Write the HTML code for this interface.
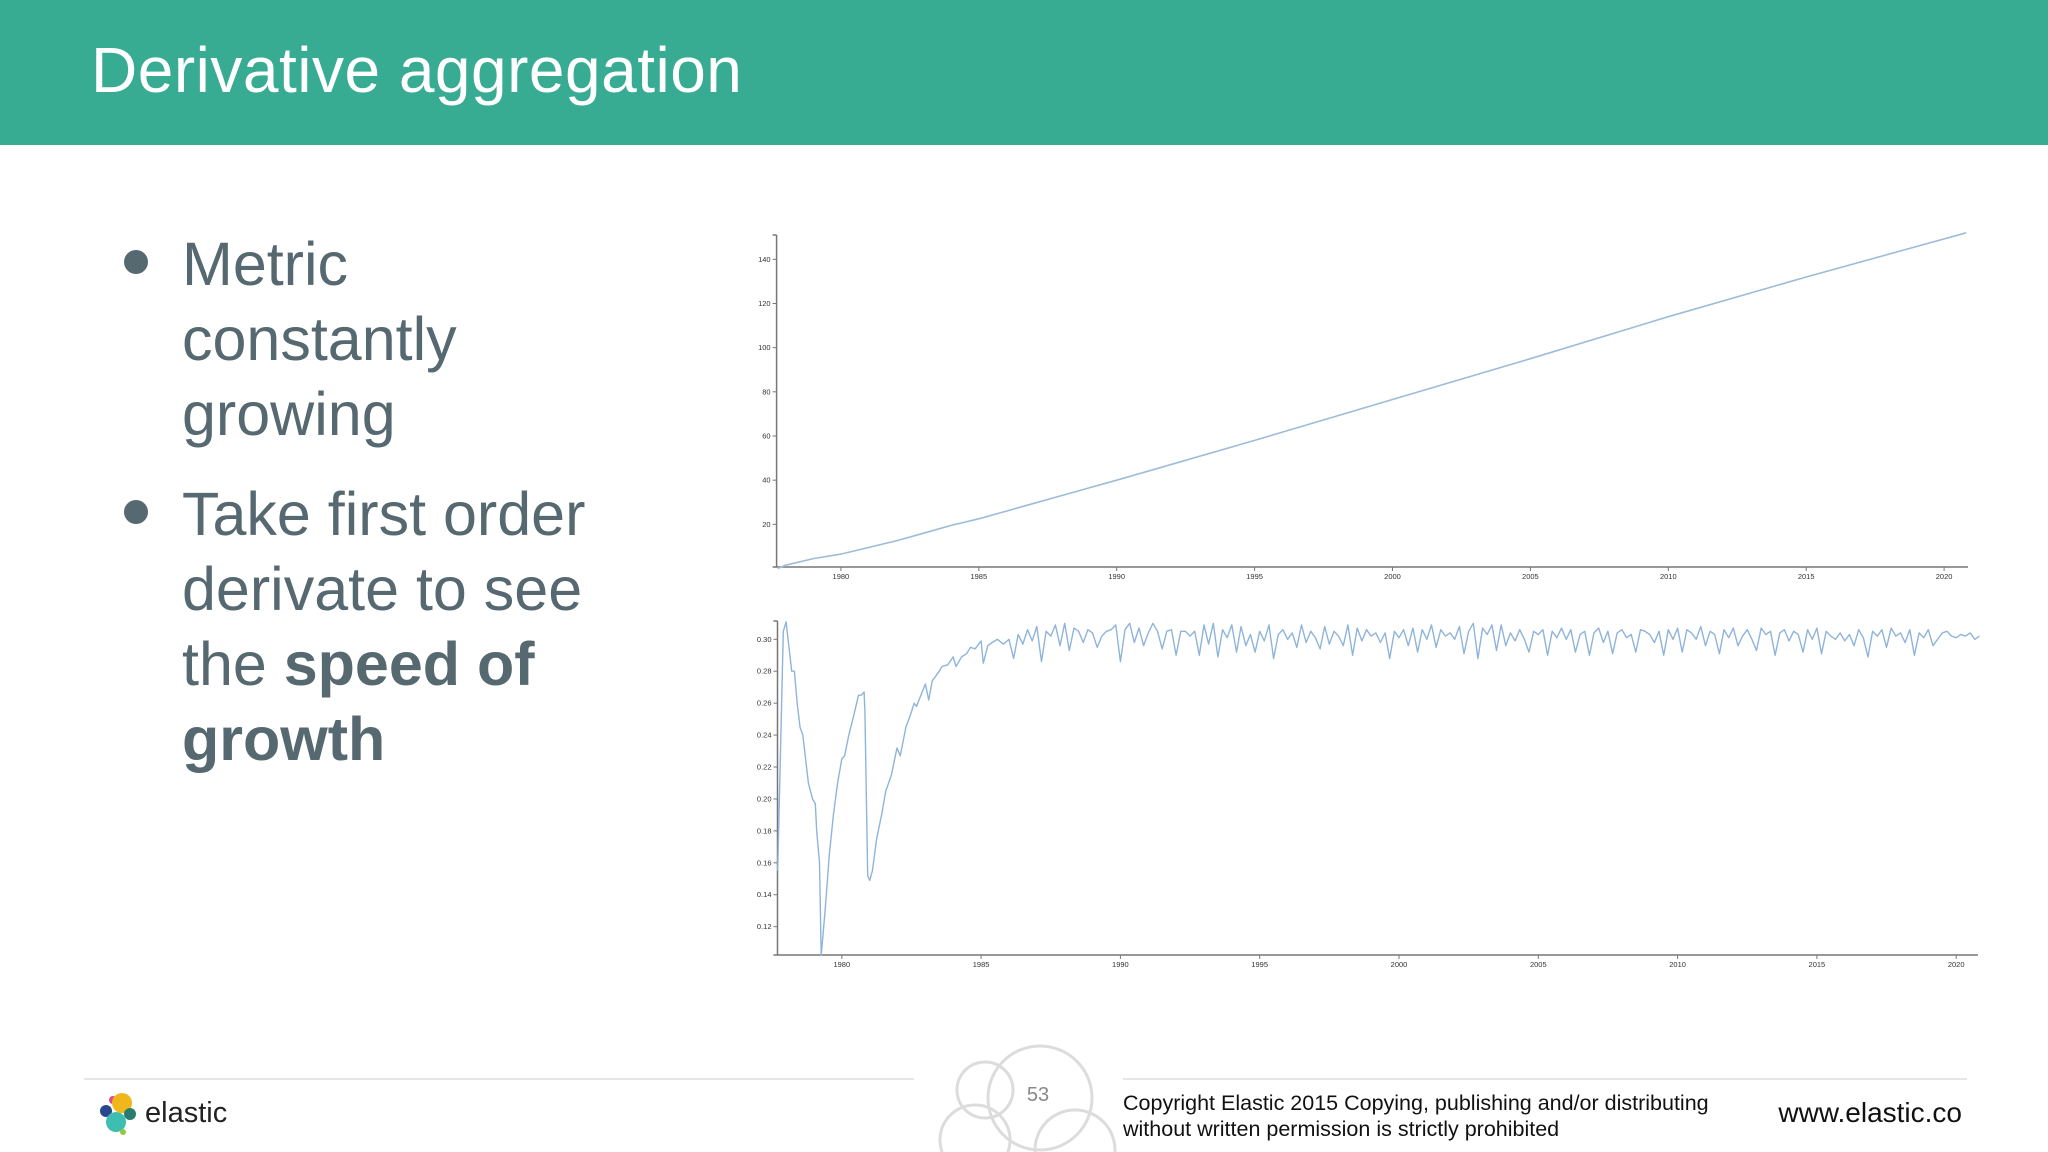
<!DOCTYPE html>
<html><head><meta charset="utf-8"><style>
html,body{margin:0;padding:0;background:#fff;}
body{width:2048px;height:1152px;position:relative;overflow:hidden;font-family:"Liberation Sans",sans-serif;}
#hdr{position:absolute;left:0;top:0;width:2048px;height:145px;background:#38ab93;}
#title{position:absolute;left:91px;top:30px;font-size:64px;color:#fff;font-weight:normal;letter-spacing:0.5px;line-height:80px;white-space:nowrap;}
.bl{position:absolute;left:182px;font-size:61px;color:#566870;line-height:75px;white-space:nowrap;}
.dot{position:absolute;left:124px;width:24px;height:24px;border-radius:50%;background:#566870;}
.fl{position:absolute;top:1078px;height:2px;background:#e6e6e6;}
</style></head><body>
<div id="hdr"></div>
<div id="title">Derivative aggregation</div>

<div class="dot" style="top:250px"></div>
<div class="bl" style="top:227px">Metric<br>constantly<br>growing</div>
<div class="dot" style="top:500px"></div>
<div class="bl" style="top:477px">Take first order<br>derivate to see<br>the <b>speed of</b><br><b>growth</b></div>

<svg id="charts" width="2048" height="1152" style="position:absolute;left:0;top:0"></svg>

<div class="fl" style="left:84px;width:830px"></div>
<div class="fl" style="left:1123px;width:844px"></div>
<svg width="2048" height="1152" style="position:absolute;left:0;top:0">
  <g>
    <circle cx="113" cy="1100" r="4" fill="#e8478b"/>
    <circle cx="122" cy="1103" r="10" fill="#f0b71b"/>
    <circle cx="106" cy="1111" r="6" fill="#28478f"/>
    <circle cx="130" cy="1114" r="6" fill="#2a7b6f"/>
    <circle cx="116" cy="1122" r="10" fill="#3ebeb0"/>
    <circle cx="123" cy="1132" r="3" fill="#93c83e"/>
  </g>
  <g fill="none" stroke="#dcdcdc" stroke-width="3">
    <circle cx="1040" cy="1098" r="52"/>
    <circle cx="985" cy="1090" r="28"/>
    <circle cx="975" cy="1140" r="35"/>
    <circle cx="1075" cy="1150" r="40"/>
  </g>
  <text x="1038" y="1101" font-size="20" fill="#888" text-anchor="middle" font-family="Liberation Sans">53</text>
  <text x="145" y="1122" font-size="29" fill="#222" font-family="Liberation Sans">elastic</text>
  <text x="1123" y="1110" font-size="21.5" fill="#111" font-family="Liberation Sans">Copyright Elastic 2015 Copying, publishing and/or distributing</text>
  <text x="1123" y="1136" font-size="21.5" fill="#111" font-family="Liberation Sans">without written permission is strictly prohibited</text>
  <text x="1962" y="1122" font-size="28" fill="#111" text-anchor="end" font-family="Liberation Sans">www.elastic.co</text>
</svg>

<script>
// ---- Top chart data (cumulative metric) ----
const topYears = [1977.7,1978,1979,1980,1981,1982,1983,1984,1985,1986,1987,1988,1989,1990,1995,2000,2005,2010,2015,2020.8];
const topValues = [0,1.5,4.5,6.5,9.5,12.5,16,19.5,22.5,26,29.5,33,36.5,40,58,76.5,95,114,132,152];
const topYTicks = [20,40,60,80,100,120,140];
const xTickYears = [1980,1985,1990,1995,2000,2005,2010,2015,2020];

// ---- Bottom chart data (derivative) ----
const earlyYears = [1977.7,1977.9,1978.0,1978.2,1978.3,1978.4,1978.5,1978.6,1978.7,1978.8,1978.95,1979.05,1979.1,1979.2,1979.26,1979.4,1979.55,1979.7,1979.85,1980.0,1980.1,1980.25,1980.4,1980.6,1980.7,1980.8,1980.83,1980.93,1981.0,1981.1,1981.25,1981.43,1981.58,1981.78,1981.98,1982.1,1982.3,1982.45,1982.6,1982.68,1982.84,1983.0,1983.12,1983.25,1983.5,1983.6,1983.8,1984.0,1984.1,1984.3,1984.48,1984.62,1984.78,1985.0,1985.08,1985.24,1985.4,1985.58,1985.8];
const earlyValues = [0.155,0.305,0.311,0.280,0.280,0.260,0.245,0.240,0.225,0.210,0.200,0.197,0.180,0.160,0.102,0.130,0.165,0.190,0.210,0.225,0.227,0.240,0.250,0.265,0.265,0.267,0.255,0.152,0.149,0.155,0.175,0.190,0.205,0.215,0.232,0.227,0.245,0.252,0.260,0.258,0.265,0.272,0.262,0.274,0.280,0.283,0.284,0.289,0.283,0.289,0.291,0.295,0.294,0.299,0.285,0.296,0.298,0.300,0.297];
const lateStart = 1986.0;
const lateValues = [
0.300,0.288,0.303,0.297,0.306,0.299,0.308,0.286,0.305,0.302,0.309,0.296,
0.310,0.293,0.307,0.305,0.298,0.306,0.304,0.295,0.302,0.305,0.306,0.309,
0.286,0.306,0.310,0.298,0.307,0.296,0.304,0.310,0.305,0.294,0.305,0.306,
0.290,0.305,0.305,0.302,0.305,0.290,0.309,0.297,0.310,0.289,0.306,0.301,
0.309,0.292,0.308,0.296,0.303,0.292,0.305,0.299,0.309,0.288,0.303,0.306,
0.300,0.304,0.295,0.309,0.298,0.305,0.301,0.294,0.308,0.297,0.305,0.302,
0.296,0.309,0.290,0.307,0.299,0.306,0.302,0.304,0.298,0.304,0.288,0.305,
0.301,0.306,0.296,0.307,0.292,0.306,0.300,0.309,0.295,0.306,0.302,0.304,
0.300,0.308,0.291,0.305,0.310,0.288,0.307,0.303,0.309,0.293,0.309,0.296,
0.304,0.299,0.306,0.300,0.292,0.305,0.303,0.306,0.290,0.305,0.301,0.307,
0.300,0.306,0.292,0.303,0.305,0.290,0.304,0.307,0.298,0.305,0.291,0.304,
0.306,0.301,0.303,0.292,0.306,0.305,0.303,0.298,0.305,0.290,0.306,0.300,
0.307,0.292,0.306,0.304,0.300,0.308,0.296,0.305,0.303,0.291,0.306,0.301,
0.307,0.296,0.302,0.306,0.300,0.293,0.307,0.303,0.305,0.290,0.304,0.306,
0.299,0.305,0.303,0.292,0.306,0.300,0.307,0.291,0.305,0.302,0.300,0.304,
0.299,0.303,0.296,0.306,0.301,0.289,0.305,0.302,0.306,0.295,0.307,0.302,
0.304,0.298,0.306,0.290,0.304,0.301,0.306,0.296,0.300,0.304,0.305,0.302,
0.301,0.303,0.302,0.304,0.300,0.302
];
const botYTicks = [0.12,0.14,0.16,0.18,0.20,0.22,0.24,0.26,0.28,0.30];

const svg = document.getElementById('charts');
const NS = 'http://www.w3.org/2000/svg';
function mk(tag, attrs, parent){
  const e = document.createElementNS(NS, tag);
  for (const k in attrs) e.setAttribute(k, attrs[k]);
  (parent||svg).appendChild(e);
  return e;
}
const topX = y => 840.9 + (y - 1980) * 27.58;
const topY = v => 568.5 - v * 2.2085;
const botX = y => 841.8 + (y - 1980) * 27.86;
const botY = v => 639.3 + (0.30 - v) / 0.02 * 31.93;

function drawAxes(name, x0, x1, yTop, yBase, yTicks, yFn, xFn, fmt){
  const g = mk('g', {});
  
  
  mk('line', {x1:x0, y1:yTop, x2:x0, y2:yBase, stroke:'#777', 'stroke-width':1.5}, g);
  mk('line', {x1:x0-4, y1:yTop, x2:x0, y2:yTop, stroke:'#777', 'stroke-width':1.5}, g);
  mk('line', {x1:x0-4, y1:yBase, x2:x1, y2:yBase, stroke:'#777', 'stroke-width':1.5}, g);
  yTicks.forEach(t => {
    const y = yFn(t);
    mk('line', {x1:x0-4, y1:y, x2:x0, y2:y, stroke:'#777', 'stroke-width':1}, g);
    const tx = mk('text', {x:x0-6, y:y+2.5, 'font-size':7.5, 'text-anchor':'end', fill:'#333', 'font-family':'Liberation Sans'}, g);
    tx.textContent = fmt(t);
    
    
  });
  xTickYears.forEach(yr => {
    const x = xFn(yr);
    mk('line', {x1:x, y1:yBase, x2:x, y2:yBase+4, stroke:'#777', 'stroke-width':1}, g);
    const tx = mk('text', {x:x, y:yBase+12, 'font-size':7.5, 'text-anchor':'middle', fill:'#333', 'font-family':'Liberation Sans'}, g);
    tx.textContent = yr;
    
    
  });
}
drawAxes('top-chart', 776.6, 1968, 235, 567, topYTicks, topY, topX, t => String(t));
drawAxes('bottom-chart', 777.5, 1978, 621, 955, botYTicks, botY, botX, t => t.toFixed(2));

let d = topYears.map((yr,i) => (i ? 'L' : 'M') + topX(yr).toFixed(1) + ',' + topY(topValues[i]).toFixed(1)).join('');
const l1 = mk('path', {d:d, fill:'none', stroke:'#9dbcd8', 'stroke-width':1.6});



const bx = earlyYears.slice();
const bv = earlyValues.slice();
lateValues.forEach((v,i) => { bx.push(lateStart + i/6); bv.push(v); });
d = bx.map((yr,i) => (i ? 'L' : 'M') + botX(yr).toFixed(1) + ',' + botY(bv[i]).toFixed(1)).join('');
const l2 = mk('path', {d:d, fill:'none', stroke:'#8fb4da', 'stroke-width':1.4, 'stroke-linejoin':'round'});


</script>
</body></html>
